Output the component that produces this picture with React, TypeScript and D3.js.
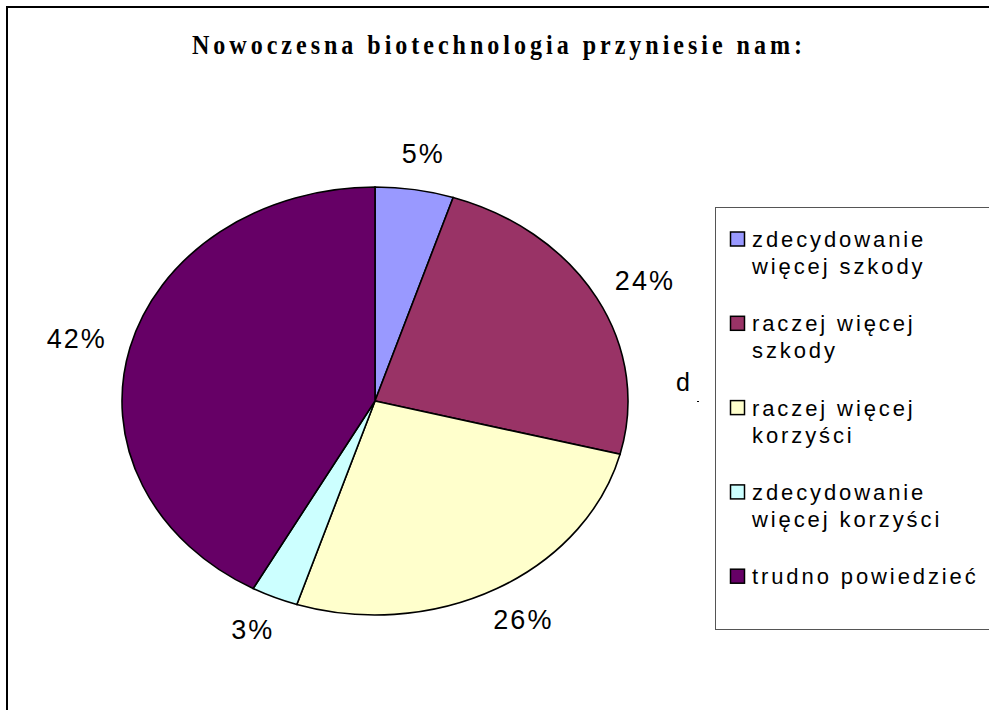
import * as d3 from 'd3'

const categories = [
  ['zdecydowanie', 'więcej szkody'],
  ['raczej więcej', 'szkody'],
  ['raczej więcej', 'korzyści'],
  ['zdecydowanie', 'więcej korzyści'],
  ['trudno powiedzieć'],
]
const values = [5, 24, 26, 3, 42]
const colors = ['#9999FF', '#993366', '#FFFFCC', '#CCFFFF', '#660066']
const title = 'Nowoczesna biotechnologia przyniesie nam:'

const W = 989
const H = 710
const cx = 375
const cy = 401
const rx = 253
const ry = 214
// label ellipse
const lrx = 308
const lry = 250

const pie = d3.pie<number>().sort(null).value((d) => d)
const arcs = pie(values)
const arcGen = d3.arc<d3.PieArcDatum<number>>().innerRadius(0).outerRadius(100)

const App = () => {
  return (
    <svg width={W} height={H} style={{ position: 'absolute', left: 0, top: 0, background: '#fff' }}>
      {/* outer frame, only top and left visible */}
      <path d={`M7,${H} L7,7 L${W},7`} fill="none" stroke="#000" strokeWidth={2} />

      {/* condensed bold serif title */}
      <g transform="translate(192,54) scale(0.86,1)">
        <text
          x={0}
          y={0}
          textLength={610 / 0.86}
          lengthAdjust="spacing"
          fontFamily="'Liberation Serif', 'Times New Roman', serif"
          fontWeight="bold"
          fontSize={28}
        >
          {title}
        </text>
      </g>

      {/* pie, drawn on a unit circle then stretched into an ellipse */}
      <g transform={`translate(${cx},${cy}) scale(${rx / 100},${ry / 100})`}>
        {arcs.map((a, i) => (
          <path
            key={i}
            d={arcGen(a) || ''}
            fill={colors[i]}
            stroke="#000"
            strokeWidth={1.6}
            vectorEffect="non-scaling-stroke"
          />
        ))}
      </g>

      {arcs.map((a, i) => {
        const mid = (a.startAngle + a.endAngle) / 2
        const x = cx + lrx * Math.sin(mid)
        const y = cy - lry * Math.cos(mid)
        return (
          <text
            key={i}
            x={x}
            y={y}
            textAnchor="middle"
            dominantBaseline="central"
            fontFamily="'Liberation Sans', Arial, sans-serif"
            fontSize={27}
            letterSpacing={2}
          >
            {values[i]}%
          </text>
        )
      })}

      {/* stray marks */}
      <text x={676} y={391} fontFamily="'Liberation Sans', Arial, sans-serif" fontSize={25}>
        d
      </text>
      <line x1={697} x2={699} y1={401.5} y2={401.5} stroke="#000" strokeWidth={1} />

      {/* legend */}
      <rect x={715.5} y={207.5} width={W} height={422} fill="#fff" stroke="#555" strokeWidth={1} />
      {categories.map((lines, i) => {
        const y0 = 247 + i * 84.3
        return (
          <g key={i}>
            <rect x={730.5} y={y0 - 15} width={14} height={14} fill={colors[i]} stroke="#000" strokeWidth={1.5} />
            {lines.map((ln, j) => (
              <text
                key={j}
                x={752}
                y={y0 + j * 27}
                fontFamily="'Liberation Sans', Arial, sans-serif"
                fontSize={22}
                letterSpacing={2.9}
              >
                {ln}
              </text>
            ))}
          </g>
        )
      })}
    </svg>
  )
}

export default App
